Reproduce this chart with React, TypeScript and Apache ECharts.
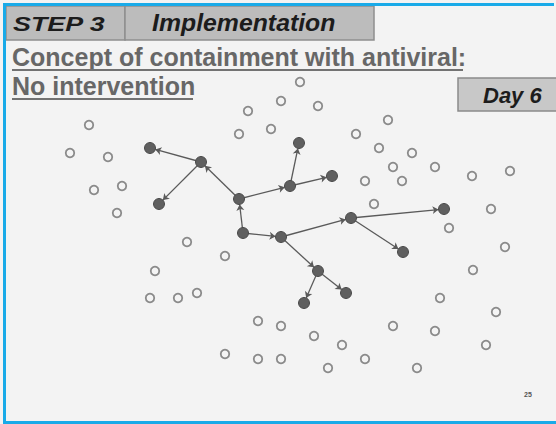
import React, { useEffect, useRef } from "react";
import * as echarts from "echarts";

// Uninfected contacts (open circles), pixel-like data coordinates
const openX = [300, 281, 318, 248, 89, 388, 239, 271, 356, 70, 108, 379, 412, 393, 435, 365, 402, 122, 94, 472, 510, 117, 374, 491, 187, 449, 225, 505, 155, 473, 150, 178, 197, 440, 496, 258, 281, 314, 393, 435, 342, 486, 225, 258, 281, 328, 365, 417];
const openY = [82, 101, 106, 111, 125, 120, 134, 129, 134, 153, 157, 148, 153, 167, 167, 181, 181, 186, 190, 176, 171, 213, 204, 209, 242, 228, 256, 247, 271, 270, 298, 298, 293, 298, 312, 321, 326, 336, 326, 331, 345, 345, 354, 359, 359, 368, 359, 368];

// Infected persons (filled nodes)
const nodeNames = ["A", "B", "C", "D", "E", "F", "G", "H", "I", "J", "K", "L", "M", "N", "O"];
const nodeX = [150, 201, 159, 239, 299, 290, 332, 243, 281, 351, 444, 403, 318, 304, 346];
const nodeY = [148, 162, 204, 199, 143, 186, 176, 233, 237, 218, 209, 252, 271, 303, 293];

// Transmission arrows
const edgeFrom = ["H", "D", "B", "B", "D", "F", "F", "H", "I", "J", "J", "I", "M", "M"];
const edgeTo = ["D", "B", "A", "C", "F", "E", "G", "I", "J", "K", "L", "M", "N", "O"];

const titleLine1 = "Concept of containment with antiviral:";
const titleLine2 = "No intervention";
const stepLabel = "STEP 3";
const stepTitle = "Implementation";
const dayLabel = "Day 6";
const pageNumber = "25";

export default function App() {
  const ref = useRef<HTMLDivElement>(null);
  useEffect(() => {
    document.body.style.margin = "0";
    if (!ref.current) return;
    const chart = echarts.init(ref.current, undefined, { renderer: "svg" });
    const W = 556;
    const H = 424;
    const openData = openX.map((x, i) => [x, openY[i]]);
    const nodeData = nodeX.map((x, i) => ({ name: nodeNames[i], value: [x, nodeY[i]] }));
    const links = edgeFrom.map((s, i) => ({ source: s, target: edgeTo[i] }));
    const sans = "Liberation Sans, Arial, sans-serif";
    chart.setOption({
      animation: false,
      backgroundColor: "#f3f3f3",
      grid: { left: 0, right: 0, top: 0, bottom: 0 },
      xAxis: { type: "value", min: 0, max: W, show: false },
      yAxis: { type: "value", min: 0, max: H, inverse: true, show: false },
      graphic: [
        // blue frame
        { type: "rect", shape: { x: 3, y: 3, width: 3, height: 420 }, style: { fill: "#19aae8" }, z: 1 },
        { type: "rect", shape: { x: 3, y: 3, width: 551, height: 3 }, style: { fill: "#19aae8" }, z: 1 },
        { type: "rect", shape: { x: 3, y: 421, width: 553, height: 3 }, style: { fill: "#19aae8" }, z: 1 },
        // header boxes
        { type: "rect", shape: { x: 6, y: 6, width: 119, height: 34 }, style: { fill: "#bcbcbc", stroke: "#8e8e8e", lineWidth: 1.5 } },
        { type: "rect", shape: { x: 125, y: 6, width: 249, height: 34 }, style: { fill: "#bcbcbc", stroke: "#8e8e8e", lineWidth: 1.5 } },
        {
          type: "text", x: 13, y: 24, scaleX: 1.28,
          style: { text: stepLabel, font: "italic bold 21px " + sans, fill: "#1c1c1c", verticalAlign: "middle", align: "left" },
        },
        {
          type: "text", x: 152, y: 23, scaleX: 1.035,
          style: { text: stepTitle, font: "italic bold 24px " + sans, fill: "#1c1c1c", verticalAlign: "middle", align: "left" },
        },
        // titles
        {
          type: "text", x: 12, y: 57,
          style: { text: titleLine1, font: "bold 25px " + sans, fill: "#676767", verticalAlign: "middle", align: "left" },
        },
        { type: "line", shape: { x1: 12, y1: 70, x2: 463, y2: 70 }, style: { stroke: "#727272", lineWidth: 2 } },
        {
          type: "text", x: 12, y: 86,
          style: { text: titleLine2, font: "bold 25px " + sans, fill: "#676767", verticalAlign: "middle", align: "left" },
        },
        { type: "line", shape: { x1: 12, y1: 99, x2: 193, y2: 99 }, style: { stroke: "#727272", lineWidth: 2 } },
        // day box
        { type: "rect", shape: { x: 458, y: 78, width: 100, height: 33 }, style: { fill: "#c8c8c8", stroke: "#8a8a8a", lineWidth: 1.5 } },
        {
          type: "text", x: 483, y: 95,
          style: { text: dayLabel, font: "italic bold 22px " + sans, fill: "#1c1c1c", verticalAlign: "middle", align: "left" },
        },
        {
          type: "text", x: 528, y: 394,
          style: { text: pageNumber, font: "bold 7px " + sans, fill: "#555555", verticalAlign: "middle", align: "center" },
        },
      ],
      series: [
        {
          type: "scatter",
          data: openData,
          symbol: "circle",
          symbolSize: 8.5,
          itemStyle: { color: "#f4f4f4", borderColor: "#8a8a8a", borderWidth: 1.8, opacity: 1 },
          silent: true,
          z: 3,
        },
        {
          type: "graph",
          coordinateSystem: "cartesian2d",
          data: nodeData,
          links,
          symbol: "circle",
          symbolSize: 11,
          edgeSymbol: ["none", "arrow"],
          edgeSymbolSize: [0, 6],
          itemStyle: { color: "#5f5f5f", borderColor: "#4a4a4a", borderWidth: 1, opacity: 1 },
          lineStyle: { color: "#5a5a5a", width: 1.3, opacity: 1, curveness: 0 },
          label: { show: false },
          silent: true,
          z: 4,
        },
      ],
    });
    return () => chart.dispose();
  }, []);
  return <div ref={ref} style={{ width: 556, height: 424, position: "absolute", left: 0, top: 0 }} />;
}
